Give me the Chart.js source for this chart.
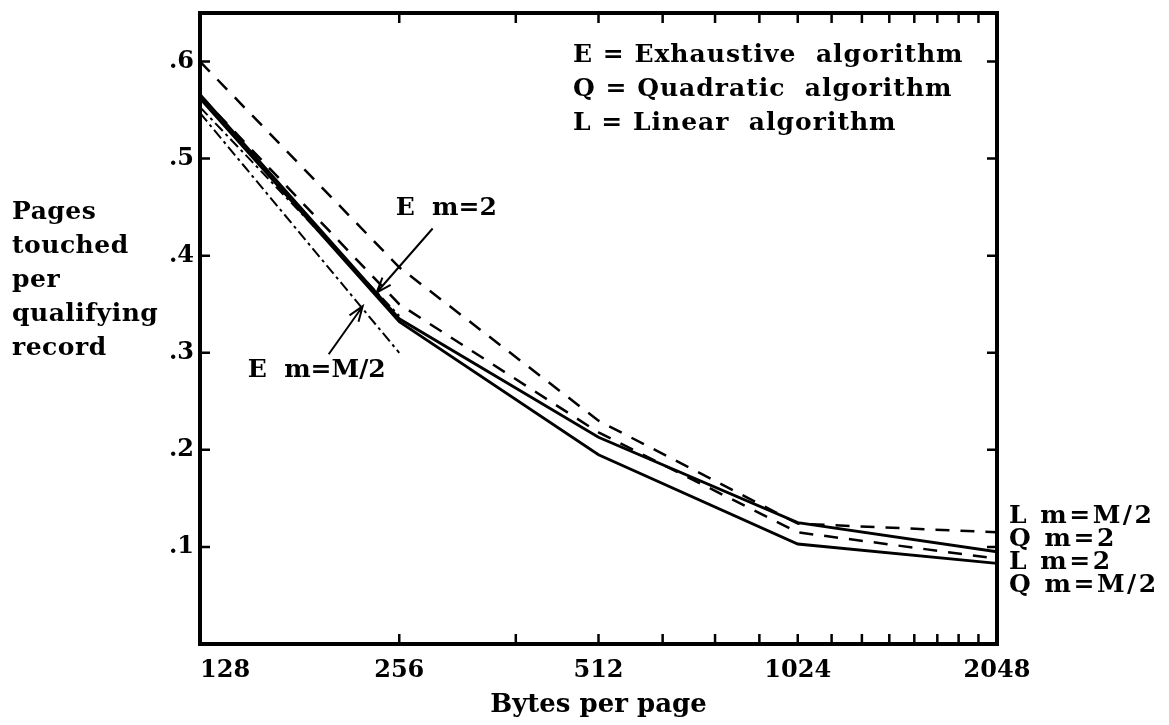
<!DOCTYPE html>
<html>
<head>
<meta charset="utf-8">
<script src="https://cdn.jsdelivr.net/npm/chart.js@4.4.1/dist/chart.umd.min.js"></script>
<style>
  body { margin: 0; background: #fff; }
  #wrap { width: 1169px; height: 725px; }
</style>
</head>
<body>
<div id="wrap"><canvas id="pagesChart" width="1169" height="725"></canvas></div>
<script>
// bytes per page (x, log2 axis)
const bytes = [128, 256, 512, 1024, 2048];
const eBytes = [128, 256];

// pages touched per qualifying record
const qHalf = [0.562, 0.332, 0.195, 0.103, 0.083]; // Q m=M/2
const qTwo  = [0.566, 0.335, 0.213, 0.125, 0.095]; // Q m=2
const lHalf = [0.600, 0.388, 0.230, 0.124, 0.115]; // L m=M/2
const lTwo  = [0.565, 0.350, 0.218, 0.115, 0.088]; // L m=2
const eTwo  = [0.553, 0.338];                      // E m=2
const eHalf = [0.547, 0.300];                      // E m=M/2

const xTicks = [128, 256, 384, 512, 640, 768, 896, 1024, 1152, 1280, 1408, 1536, 1664, 1792, 1920, 2048];
const xLabels = [128, 256, 512, 1024, 2048];
const yTicks = [0.1, 0.2, 0.3, 0.4, 0.5, 0.6];

const legendLines = ['E = Exhaustive  algorithm', 'Q = Quadratic  algorithm', 'L = Linear  algorithm'];
const yTitle = ['Pages', 'touched', 'per', 'qualifying', 'record'];
const endLabels = ['L m=M/2', 'Q m=2', 'L m=2', 'Q m=M/2'];

const FAMILY = 'DejaVu Serif';
const FONT = 'bold 25px "' + FAMILY + '"';

function pts(xs, ys) {
  return xs.map((x, i) => ({ x: x, y: ys[i] }));
}

function line(label, xs, ys, dash, width) {
  return {
    label: label,
    data: pts(xs, ys),
    borderColor: '#000',
    borderWidth: width,
    borderDash: dash,
    pointRadius: 0,
    tension: 0,
    fill: false
  };
}

function arrow(ctx, x0, y0, x1, y1) {
  ctx.beginPath();
  ctx.moveTo(x0, y0);
  ctx.lineTo(x1, y1);
  const a = Math.atan2(y1 - y0, x1 - x0);
  const h = 16;
  ctx.moveTo(x1 - h * Math.cos(a - 0.35), y1 - h * Math.sin(a - 0.35));
  ctx.lineTo(x1, y1);
  ctx.lineTo(x1 - h * Math.cos(a + 0.35), y1 - h * Math.sin(a + 0.35));
  ctx.stroke();
}

// frame, inward ticks and all the annotation text
const decor = {
  id: 'decor',
  afterDatasetsDraw(chart) {
    const ctx = chart.ctx;
    const a = chart.chartArea;
    const xs = chart.scales.x, ys = chart.scales.y;
    ctx.save();
    ctx.strokeStyle = '#000';
    ctx.fillStyle = '#000';
    ctx.lineCap = 'butt';

    ctx.lineWidth = 4;
    ctx.strokeRect(a.left, a.top, a.right - a.left, a.bottom - a.top);

    ctx.lineWidth = 2.5;
    xTicks.slice(1, -1).forEach(v => {
      const px = xs.getPixelForValue(v);
      ctx.beginPath();
      ctx.moveTo(px, a.bottom); ctx.lineTo(px, a.bottom - 10);
      ctx.moveTo(px, a.top); ctx.lineTo(px, a.top + 10);
      ctx.stroke();
    });
    yTicks.forEach(v => {
      const py = ys.getPixelForValue(v);
      ctx.beginPath();
      ctx.moveTo(a.left, py); ctx.lineTo(a.left + 10, py);
      ctx.moveTo(a.right, py); ctx.lineTo(a.right - 10, py);
      ctx.stroke();
    });

    ctx.font = FONT;
    ctx.textBaseline = 'middle';
    ctx.textAlign = 'left';
    ctx.letterSpacing = '1px';
    legendLines.forEach((t, i) => ctx.fillText(t, 573, a.top + 42 + i * 34));
    ctx.letterSpacing = '0.5px';
    yTitle.forEach((t, i) => ctx.fillText(t, 12, 212 + i * 34));
    ctx.letterSpacing = '2.5px';
    endLabels.forEach((t, i) => ctx.fillText(t, a.right + 12, 516 + i * 23));
    ctx.letterSpacing = '0px';

    // E m=2 pointer
    const t1x = xs.getPixelForValue(235), t1y = ys.getPixelForValue(0.36);
    ctx.fillText('E  m=2', t1x + 21, t1y - 86);
    ctx.lineWidth = 2;
    arrow(ctx, t1x + 58, t1y - 66, t1x + 2, t1y - 2);
    // E m=M/2 pointer
    const t2x = xs.getPixelForValue(227), t2y = ys.getPixelForValue(0.35);
    ctx.fillText('E  m=M/2', t2x - 117, t2y + 66);
    arrow(ctx, t2x - 36, t2y + 50, t2x - 2, t2y + 2);
    ctx.restore();
  }
};

const tickFont = { family: FAMILY, size: 24, weight: 'bold' };

const config = {
  type: 'line',
  data: {
    datasets: [
      line('L m=M/2', bytes, lHalf, [14, 11], 2.5),
      line('L m=2', bytes, lTwo, [14, 11], 2.5),
      line('Q m=2', bytes, qTwo, [], 2.8),
      line('Q m=M/2', bytes, qHalf, [], 2.8),
      line('E m=2', eBytes, eTwo, [11, 4, 3, 4], 2),
      line('E m=M/2', eBytes, eHalf, [11, 4, 3, 4], 2)
    ]
  },
  options: {
    responsive: false,
    animation: false,
    layout: { padding: { top: 13, right: 172, left: 0, bottom: 0 } },
    plugins: { legend: { display: false }, tooltip: { enabled: false } },
    scales: {
      x: {
        type: 'logarithmic',
        min: 128,
        max: 2048,
        afterBuildTicks: s => { s.ticks = xTicks.map(v => ({ value: v })); },
        afterFit: s => { s.height = 81; s.paddingLeft = 0; s.paddingRight = 0; },
        grid: { display: false, drawTicks: false },
        border: { display: false },
        ticks: {
          autoSkip: false,
          maxRotation: 0,
          padding: 12,
          color: '#000',
          font: tickFont,
          // first label sits to the right of the corner, as in the figure
          callback: v => xLabels.includes(v) ? (v === 128 ? '      128' : String(v)) : ''
        },
        title: {
          display: true,
          text: 'Bytes per page',
          color: '#000',
          font: { family: FAMILY, size: 26, weight: 'bold' },
          padding: { top: 0, bottom: 4 }
        }
      },
      y: {
        min: 0,
        max: 0.65,
        afterBuildTicks: s => { s.ticks = yTicks.map(v => ({ value: v })); },
        afterFit: s => { s.width = 200; s.paddingTop = 0; s.paddingBottom = 0; },
        grid: { display: false, drawTicks: false },
        border: { display: false },
        ticks: {
          padding: 6,
          color: '#000',
          font: tickFont,
          callback: v => '.' + Math.round(v * 10)
        }
      }
    }
  },
  plugins: [decor]
};

const pagesChart = new Chart(document.getElementById('pagesChart'), config);
</script>
</body>
</html>
